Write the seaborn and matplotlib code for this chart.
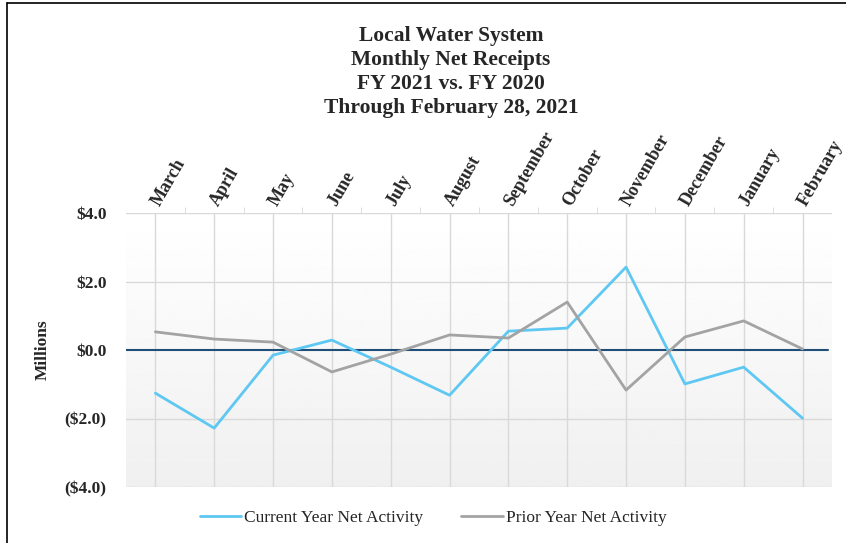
import numpy as np
import pandas as pd
import matplotlib
matplotlib.use("Agg")
import matplotlib.pyplot as plt
from matplotlib.ticker import FixedLocator, FuncFormatter
import seaborn as sns

# chart data (millions)
months = ["March", "April", "May", "June", "July", "August", "September",
          "October", "November", "December", "January", "February"]
current_year = [-1.26, -2.28, -0.15, 0.29, -0.50, -1.32, 0.55, 0.64, 2.42, -0.99, -0.50, -1.99]
prior_year = [0.53, 0.32, 0.23, -0.64, -0.12, 0.44, 0.35, 1.40, -1.17, 0.38, 0.85, 0.03]
series_names = ["Current Year Net Activity", "Prior Year Net Activity"]
title_lines = ["Local Water System", "Monthly Net Receipts", "FY 2021 vs. FY 2020",
               "Through February 28, 2021"]

df = pd.concat([
    pd.DataFrame({"month": months, "value": current_year, "series": series_names[0]}),
    pd.DataFrame({"month": months, "value": prior_year, "series": series_names[1]}),
], ignore_index=True)

sns.set_style("white")
plt.rcParams["font.family"] = ["Liberation Serif", "DejaVu Serif"]

fig = plt.figure(figsize=(8.46, 5.43), dpi=100)
ax = fig.add_axes([0.1489, 0.1031, 0.8345, 0.5046])

# gradient background of the plot area
grad = np.linspace(1.0, 0.94, 256).reshape(-1, 1)
ax.imshow(grad, cmap="gray", vmin=0, vmax=1, aspect="auto",
          extent=[0, 1, 0, 1], transform=ax.transAxes, zorder=0)

palette = {series_names[0]: "#5EC8F2", series_names[1]: "#A3A3A3"}
sns.lineplot(data=df, x="month", y="value", hue="series", palette=palette,
             sort=False, linewidth=2.0, ax=ax, zorder=3)

ax.set_xlim(-0.5, 11.5)
ax.set_ylim(-4, 4)

# grid
for y in [4, 2, -2, -4]:
    ax.axhline(y, color="#D9D9D9", linewidth=1.0, zorder=1)
for i in range(len(months)):
    ax.axvline(i, color="#D9D9D9", linewidth=1.0, zorder=1)
ax.axhline(0, xmax=0.995, color="#1F4E79", linewidth=1.5, zorder=2)

for s in ax.spines.values():
    s.set_visible(False)

ax.xaxis.tick_top()
ax.xaxis.set_major_locator(FixedLocator(range(len(months))))
ax.set_xticklabels(months, rotation=60, ha="left", va="center",
                   rotation_mode="anchor", fontsize=13, fontweight="bold")
ax.tick_params(axis="x", which="major", length=0, pad=6)
ax.xaxis.set_minor_locator(FixedLocator(np.arange(0.5, 11, 1)))
ax.tick_params(axis="x", which="minor", top=True, length=4, color="#D9D9D9", direction="out")
ax.set_xlabel("")

ax.set_yticks([4, 2, 0, -2, -4])
ax.yaxis.set_major_formatter(FuncFormatter(
    lambda v, p: f"${v:.1f}" if v >= 0 else f"(${-v:.1f})"))
ax.tick_params(axis="y", length=0, pad=14, labelsize=12.5)
for lab in ax.get_yticklabels():
    lab.set_fontweight("bold")
ax.set_ylabel("Millions", fontsize=12.5, fontweight="bold", labelpad=10)

fig.text(0.533, 0.952, "\n".join(title_lines), ha="center", va="top",
         fontsize=15.5, fontweight="bold", linespacing=1.27)

handles, labels = ax.get_legend_handles_labels()
ax.legend(handles, labels, loc="center", bbox_to_anchor=(0.435, -0.112),
          ncol=2, frameon=False, fontsize=12.5, handlelength=2.4,
          handletextpad=0.15, columnspacing=2.2)

# border on the left and top of the figure
fig.add_artist(plt.Line2D([0.008, 0.008], [0, 0.994], color="black", linewidth=1.2))
fig.add_artist(plt.Line2D([0.008, 1.0], [0.994, 0.994], color="black", linewidth=1.2))

fig.savefig("out.png", dpi=100)
